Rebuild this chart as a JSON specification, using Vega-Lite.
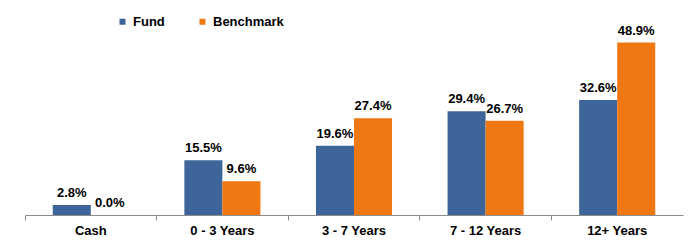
{
  "$schema": "https://vega.github.io/schema/vega-lite/v6.json",
  "width": 658,
  "height": 194,
  "autosize": {"type": "none"},
  "padding": {"left": 25, "top": 21, "right": 8, "bottom": 26},
  "background": "white",
  "config": {
    "view": {"stroke": null},
    "font": "Liberation Sans"
  },
  "data": {
    "values": [
      {"category": "Cash", "series": "Fund", "value": 2.8},
      {"category": "Cash", "series": "Benchmark", "value": 0.0},
      {"category": "0 - 3 Years", "series": "Fund", "value": 15.5},
      {"category": "0 - 3 Years", "series": "Benchmark", "value": 9.6},
      {"category": "3 - 7 Years", "series": "Fund", "value": 19.6},
      {"category": "3 - 7 Years", "series": "Benchmark", "value": 27.4},
      {"category": "7 - 12 Years", "series": "Fund", "value": 29.4},
      {"category": "7 - 12 Years", "series": "Benchmark", "value": 26.7},
      {"category": "12+ Years", "series": "Fund", "value": 32.6},
      {"category": "12+ Years", "series": "Benchmark", "value": 48.9}
    ]
  },
  "transform": [{"calculate": "format(datum.value, '.1f') + '%'", "as": "label"}],
  "encoding": {
    "x": {
      "field": "category",
      "type": "nominal",
      "sort": ["Cash", "0 - 3 Years", "3 - 7 Years", "7 - 12 Years", "12+ Years"],
      "scale": {"paddingInner": 0, "paddingOuter": 0},
      "axis": {
        "title": null,
        "labelAngle": 0,
        "labelFont": "Liberation Sans",
        "labelFontSize": 13,
        "labelFontWeight": "bold",
        "labelColor": "black",
        "labelPadding": 4,
        "bandPosition": 0,
        "domainColor": "#8c8c8c",
        "tickColor": "#8c8c8c",
        "tickSize": 5,
        "grid": false
      }
    },
    "xOffset": {
      "field": "series",
      "type": "nominal",
      "sort": ["Fund", "Benchmark"],
      "scale": {"paddingInner": 0, "paddingOuter": 0.73}
    },
    "y": {
      "field": "value",
      "type": "quantitative",
      "scale": {"domain": [0, 55], "nice": false},
      "axis": null
    }
  },
  "layer": [
    {
      "mark": {"type": "bar"},
      "encoding": {
        "color": {
          "field": "series",
          "type": "nominal",
          "sort": ["Fund", "Benchmark"],
          "scale": {"domain": ["Fund", "Benchmark"], "range": ["#3E659A", "#F07812"]},
          "legend": {
            "title": null,
            "orient": "none",
            "direction": "horizontal",
            "legendX": 91,
            "legendY": -6,
            "symbolType": "square",
            "symbolSize": 36,
            "symbolStrokeWidth": 0,
            "labelFont": "Liberation Sans",
            "labelFontSize": 13,
            "labelFontWeight": "bold",
            "labelColor": "black",
            "labelOffset": 4,
            "columnPadding": 31
          }
        }
      }
    },
    {
      "mark": {
        "type": "text",
        "baseline": "bottom",
        "dy": -5,
        "font": "Liberation Sans",
        "fontSize": 13,
        "fontWeight": "bold",
        "color": "black"
      },
      "encoding": {
        "text": {"field": "label", "type": "nominal"},
        "detail": {"field": "series"}
      }
    }
  ]
}
